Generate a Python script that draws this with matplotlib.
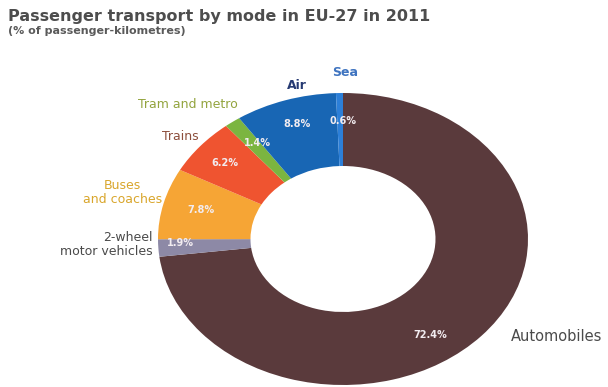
import matplotlib.pyplot as plt

# Passenger transport shares, EU-27, 2011 (% of passenger-km)
modes = ['Automobiles', '2-wheel\nmotor vehicles', 'Buses\nand coaches',
         'Trains', 'Tram and metro', 'Air', 'Sea']
shares = [72.4, 1.9, 7.8, 6.2, 1.4, 8.8, 0.6]
colors = ['#5a3a3c', '#8d89a6', '#f6a535', '#ef5430', '#7bb540', '#1866b4', '#2c7fd8']
label_colors = ['#4a4a4a', '#4a4a4a', '#d9a62c', '#8c4e3c', '#93a43e', '#263a72', '#3f74c0']

plt.rcParams['font.family'] = ['DejaVu Sans']

W, H = 608, 387
fig = plt.figure(figsize=(W / 100, H / 100), dpi=100)

# ring centre and radii in pixels (the ring is drawn as an ellipse)
cx, cy, rx, ry = 343, 239, 185, 146
ax = fig.add_axes([(cx - rx) / W, (H - cy - ry) / H, 2 * rx / W, 2 * ry / H])

ax.pie(shares, colors=colors, startangle=90, counterclock=False,
       radius=1, wedgeprops=dict(width=0.5, linewidth=0))
ax.set_aspect('auto')
ax.set_xlim(-1, 1)
ax.set_ylim(-1, 1)
ax.axis('off')

# percentage labels on the ring
pct_pos = [(0.47, -0.66), (-0.88, -0.03), (-0.77, 0.20), (-0.64, 0.52),
           (-0.46, 0.66), (-0.25, 0.79), (0.0, 0.81)]
for v, (x, y) in zip(shares, pct_pos):
    ax.text(x, y, f'{v}%', color='#f2ecf0', fontsize=7, fontweight='bold',
            ha='center', va='center')

# category labels around the ring
name_pos = [(0.91, -0.67, 'left'), (-1.03, -0.04, 'right'), (-1.19, 0.32, 'center'),
            (-0.88, 0.70, 'center'), (-0.84, 0.92, 'center'), (-0.25, 1.05, 'center'),
            (0.01, 1.14, 'center')]
for name, c, (x, y, ha) in zip(modes, label_colors, name_pos):
    bold = name in ('Air', 'Sea')
    size = 10.5 if name == 'Automobiles' else 9
    ax.text(x, y, name, color=c, fontsize=size, ha=ha, va='center',
            multialignment=ha, linespacing=1.1,
            fontweight='bold' if bold else 'normal')

fig.text(8 / W, 1 - 17 / H, 'Passenger transport by mode in EU-27 in 2011',
         fontsize=11.5, fontweight='bold', color='#4d4d4d', va='center')
fig.text(8 / W, 1 - 31 / H, '(% of passenger-kilometres)',
         fontsize=8, fontweight='bold', color='#5a5a5a', va='center')

fig.savefig('out.png', dpi=100)
